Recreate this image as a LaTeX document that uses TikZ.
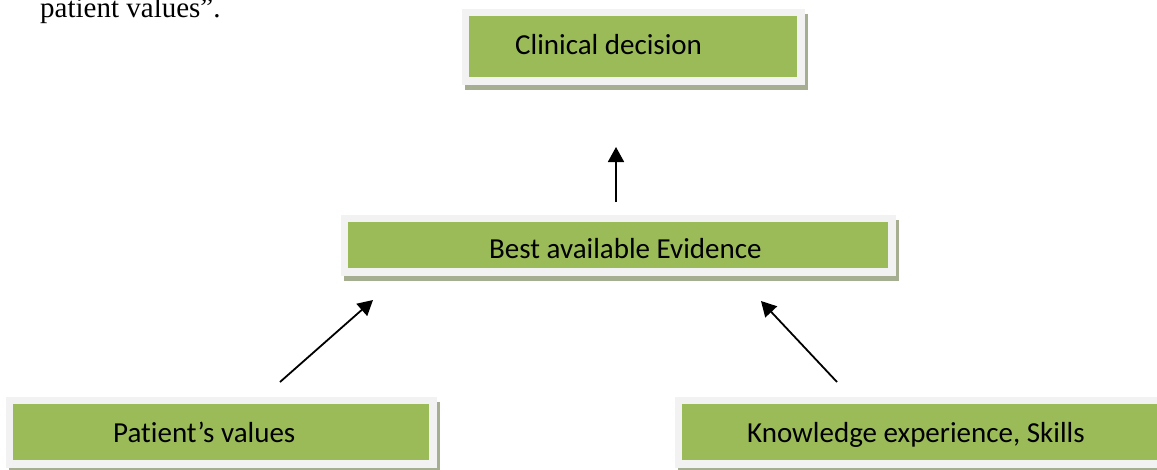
\documentclass[tikz,border=0pt]{standalone}
\usepackage{fontspec}
\setmainfont{Liberation Serif}
\newfontfamily\boxfont[Ligatures=NoCommon]{Carlito}
\usetikzlibrary{arrows.meta}
\definecolor{boxgreen}{HTML}{9BBB59}
\definecolor{framegray}{HTML}{F2F2F2}
\definecolor{shadowc}{RGB}{166,174,146}
\tikzset{
  greenbox/.style={rectangle, inner sep=0pt, fill=boxgreen,
    preaction={fill=shadowc, draw=shadowc, line width=15pt,
      transform canvas={shift={(3pt,-5.5pt)}}},
    preaction={draw=framegray, line width=15pt}},
  boxtext/.style={anchor=base west, inner sep=0pt,
    font=\boxfont\fontsize{29pt}{34pt}\selectfont},
  arr/.style={line width=1.8pt, -{Triangle[length=15pt,width=16pt]}}
}
\begin{document}
\begin{tikzpicture}[x=1pt,y=-1pt]
\useasboundingbox (0,0) rectangle (1157,469);
% leftover text
\node[anchor=base west, inner sep=0pt, font=\fontsize{29pt}{34pt}\selectfont] (prev) at (40,17) {patient values”.};
% boxes
\node[greenbox, minimum width=328pt, minimum height=61pt] (clin) at (633,46.5) {};
\node[greenbox, minimum width=540pt, minimum height=46pt] (best) at (618,245) {};
\node[greenbox, minimum width=416pt, minimum height=56pt] (pat) at (221,432) {};
\node[greenbox, minimum width=488pt, minimum height=56pt] (know) at (926,432) {};
% texts
\node[boxtext] (clinT) at (515,54) {Clinical decision};
\node[boxtext] (bestT) at (489,258) {Best available Evidence};
\node[boxtext] (patT) at (113,442) {Patient’s values};
\node[boxtext] (knowT) at (747,442) {Knowledge experience, Skills};
% connectors
\coordinate (a1s) at (616,202);
\coordinate (a1e) at (616,147);
\coordinate (a2s) at (280,382);
\coordinate (a2e) at (373,300);
\coordinate (a3s) at (837,382);
\coordinate (a3e) at (761,301);
\draw[arr] (a1s) -- (a1e);
\draw[arr] (a2s) -- (a2e);
\draw[arr] (a3s) -- (a3e);
\end{tikzpicture}
\end{document}
